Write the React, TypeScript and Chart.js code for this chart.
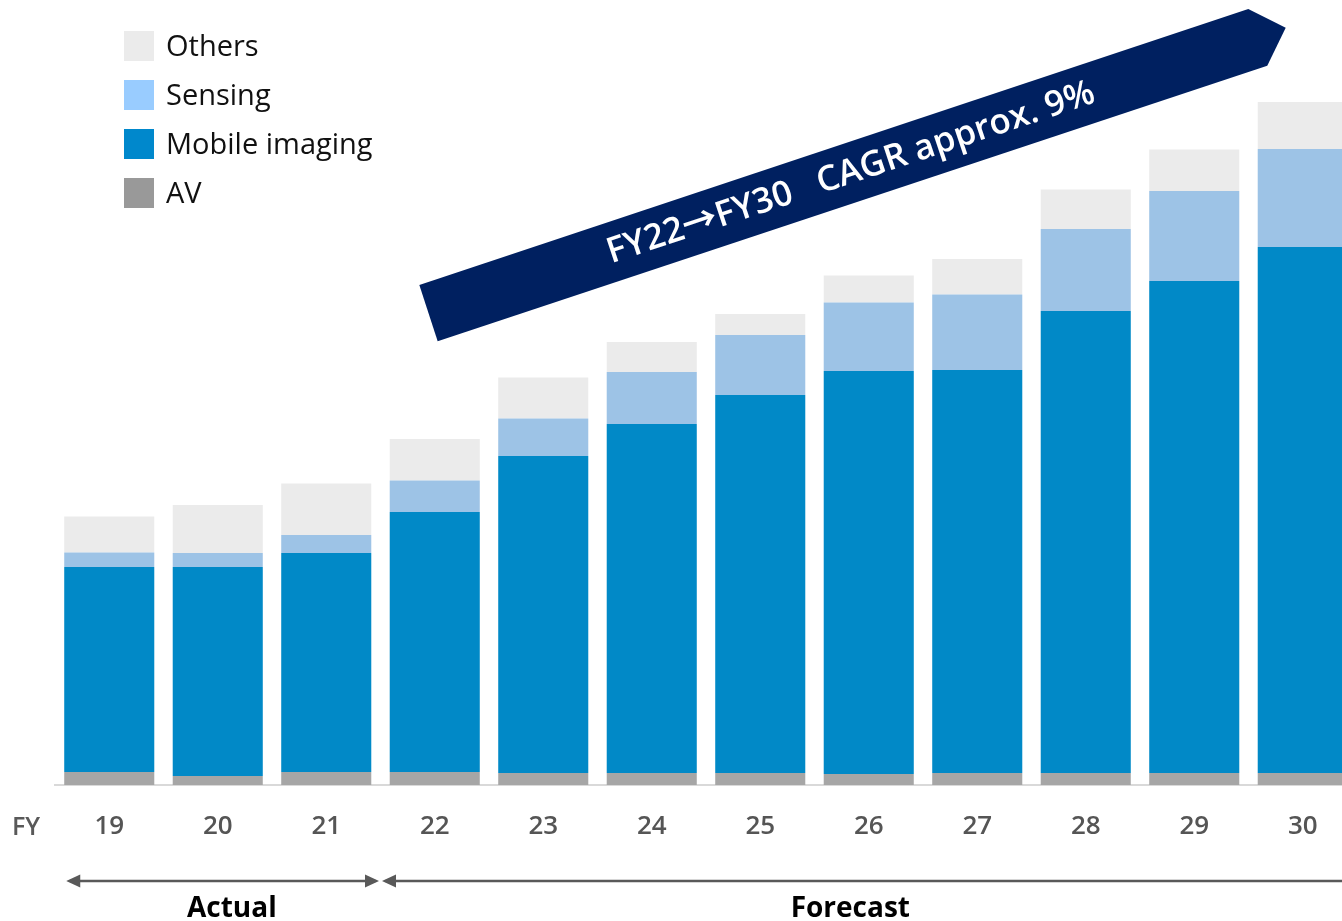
import React, { useEffect, useRef } from "react";
import { Chart, registerables } from "chart.js";

Chart.register(...registerables);

// ---- data ----
const categories = ["19", "20", "21", "22", "23", "24", "25", "26", "27", "28", "29", "30"];
const av = [1.3, 0.9, 1.3, 1.3, 1.2, 1.2, 1.2, 1.1, 1.2, 1.2, 1.2, 1.2];
const mobileImaging = [20.5, 20.9, 21.9, 26.0, 31.7, 34.9, 37.8, 40.3, 40.3, 46.2, 49.2, 52.6];
const sensing = [1.45, 1.4, 1.8, 3.15, 3.75, 5.2, 6.0, 6.85, 7.55, 8.2, 9.0, 9.8];
const others = [3.6, 4.8, 5.15, 4.15, 4.1, 3.0, 2.1, 2.7, 3.55, 3.95, 4.15, 4.7];

const seriesLabels = ["AV", "Mobile imaging", "Sensing", "Others"];
const axisTitle = "FY";
const periodLabels = ["Actual", "Forecast"];
const bannerText = "FY22\u2192FY30   CAGR approx. 9%";

// banner outline in chart units (category index, value)
const bannerX = [2.858, 3.027, 10.673, 10.843, 10.498];
const bannerY = [50.0, 44.37, 71.93, 75.73, 77.6];
const bannerTextAnchor = { x: 6.836, y: 61.2 };
// where the period labels are centred (category index)
const periodLabelX = [1.13, 6.83];

const FONT = '"Open Sans", "Noto Sans", sans-serif';
const BANNER_FONT = '"Open Sans", "Noto Sans CJK JP", sans-serif';

const legendPlugin = {
  id: "customLegend",
  afterDraw(chart: any) {
    const { ctx } = chart;
    const ds = chart.data.datasets.slice().reverse();
    ctx.save();
    ds.forEach((d: any, i: number) => {
      const top = 31 + i * 49;
      ctx.fillStyle = d.legendColor;
      ctx.fillRect(124, top, 30, 30);
      ctx.fillStyle = "#111111";
      ctx.font = `400 29px ${FONT}`;
      ctx.textAlign = "left";
      ctx.textBaseline = "alphabetic";
      ctx.fillText(d.label, 166, top + 15 + 10);
    });
    ctx.restore();
  },
};

function arrowHead(ctx: CanvasRenderingContext2D, x: number, y: number, dir: number) {
  ctx.beginPath();
  ctx.moveTo(x, y);
  ctx.lineTo(x - dir * 14, y - 6.5);
  ctx.lineTo(x - dir * 14, y + 6.5);
  ctx.closePath();
  ctx.fill();
}

const annotationPlugin = {
  id: "annotations",
  afterDraw(chart: any) {
    const { ctx, chartArea, scales } = chart;
    const xs = scales.x;
    const ys = scales.y;
    ctx.save();

    // banner
    const pts = bannerX.map((bx, i) => ({ x: xs.getPixelForValue(bx), y: ys.getPixelForValue(bannerY[i]) }));
    ctx.fillStyle = "#002060";
    ctx.beginPath();
    ctx.moveTo(pts[0].x, pts[0].y);
    for (let i = 1; i < pts.length; i++) ctx.lineTo(pts[i].x, pts[i].y);
    ctx.closePath();
    ctx.fill();
    const angle = Math.atan2(pts[4].y - pts[0].y, pts[4].x - pts[0].x);
    ctx.save();
    ctx.translate(xs.getPixelForValue(bannerTextAnchor.x), ys.getPixelForValue(bannerTextAnchor.y));
    ctx.rotate(angle);
    ctx.fillStyle = "#ffffff";
    ctx.font = `600 35px ${BANNER_FONT}`;
    ctx.textAlign = "center";
    ctx.textBaseline = "middle";
    ctx.fillText(bannerText, 0, 0);
    ctx.restore();

    // FY label
    const base = chartArea.bottom;
    ctx.fillStyle = "#595959";
    ctx.font = `600 25px ${FONT}`;
    ctx.textAlign = "left";
    ctx.textBaseline = "alphabetic";
    ctx.fillText(axisTitle, 12, base + 50);

    // period arrows
    const meta = chart.getDatasetMeta(0);
    const firstBar = meta.data[0];
    const leftStart = firstBar.x - firstBar.width / 2 + 2;
    const divider = (xs.getPixelForValue(2) + xs.getPixelForValue(3)) / 2;
    const ay = base + 96;
    ctx.strokeStyle = "#595959";
    ctx.fillStyle = "#595959";
    ctx.lineWidth = 2.5;
    ctx.beginPath();
    ctx.moveTo(leftStart + 4, ay);
    ctx.lineTo(divider - 5, ay);
    ctx.stroke();
    arrowHead(ctx, leftStart, ay, -1);
    arrowHead(ctx, divider - 1.5, ay, 1);
    ctx.beginPath();
    ctx.moveTo(divider + 5, ay);
    ctx.lineTo(chart.width, ay);
    ctx.stroke();
    arrowHead(ctx, divider + 1.5, ay, -1);

    // period labels
    ctx.fillStyle = "#000000";
    ctx.font = `700 28px ${FONT}`;
    ctx.textAlign = "center";
    ctx.textBaseline = "alphabetic";
    periodLabels.forEach((t, i) => {
      ctx.fillText(t, xs.getPixelForValue(periodLabelX[i]), base + 132);
    });

    ctx.restore();
  },
};

export default function App() {
  const canvasRef = useRef<HTMLCanvasElement | null>(null);

  useEffect(() => {
    if (!canvasRef.current) return;
    const chart = new Chart(canvasRef.current, {
      type: "bar",
      data: {
        labels: categories,
        datasets: [
          { label: seriesLabels[0], data: av, backgroundColor: "#a6a6a6", legendColor: "#999999" } as any,
          { label: seriesLabels[1], data: mobileImaging, backgroundColor: "#0189c7", legendColor: "#0088cc" } as any,
          { label: seriesLabels[2], data: sensing, backgroundColor: "#9dc3e6", legendColor: "#99ccff" } as any,
          { label: seriesLabels[3], data: others, backgroundColor: "#ebebeb", legendColor: "#ebebeb" } as any,
        ],
      },
      options: {
        responsive: false,
        animation: false,
        devicePixelRatio: 1,
        layout: { padding: { left: 55, right: 1, top: 85, bottom: 0 } },
        datasets: { bar: { barPercentage: 0.83, categoryPercentage: 1, borderWidth: 0 } },
        plugins: { legend: { display: false }, tooltip: { enabled: false } },
        scales: {
          x: {
            stacked: true,
            grid: { display: false, drawTicks: false },
            border: { display: true, color: "#d9d9d9", width: 2 },
            ticks: {
              color: "#555555",
              font: { family: FONT, size: 26, weight: "600" },
              padding: 26,
              maxRotation: 0,
              autoSkip: false,
            },
            afterFit: (scale: any) => {
              scale.height = 136;
            },
          },
          y: {
            stacked: true,
            display: false,
            min: 0,
            max: 70,
          },
        },
      },
      plugins: [legendPlugin, annotationPlugin],
    } as any);
    return () => chart.destroy();
  }, []);

  return (
    <div
      style={{
        position: "fixed",
        left: 0,
        top: 0,
        width: 1342,
        height: 921,
        overflow: "hidden",
        background: "#ffffff",
      }}
    >
      <canvas ref={canvasRef} width={1358} height={921} style={{ display: "block", width: 1358, height: 921 }} />
    </div>
  );
}
